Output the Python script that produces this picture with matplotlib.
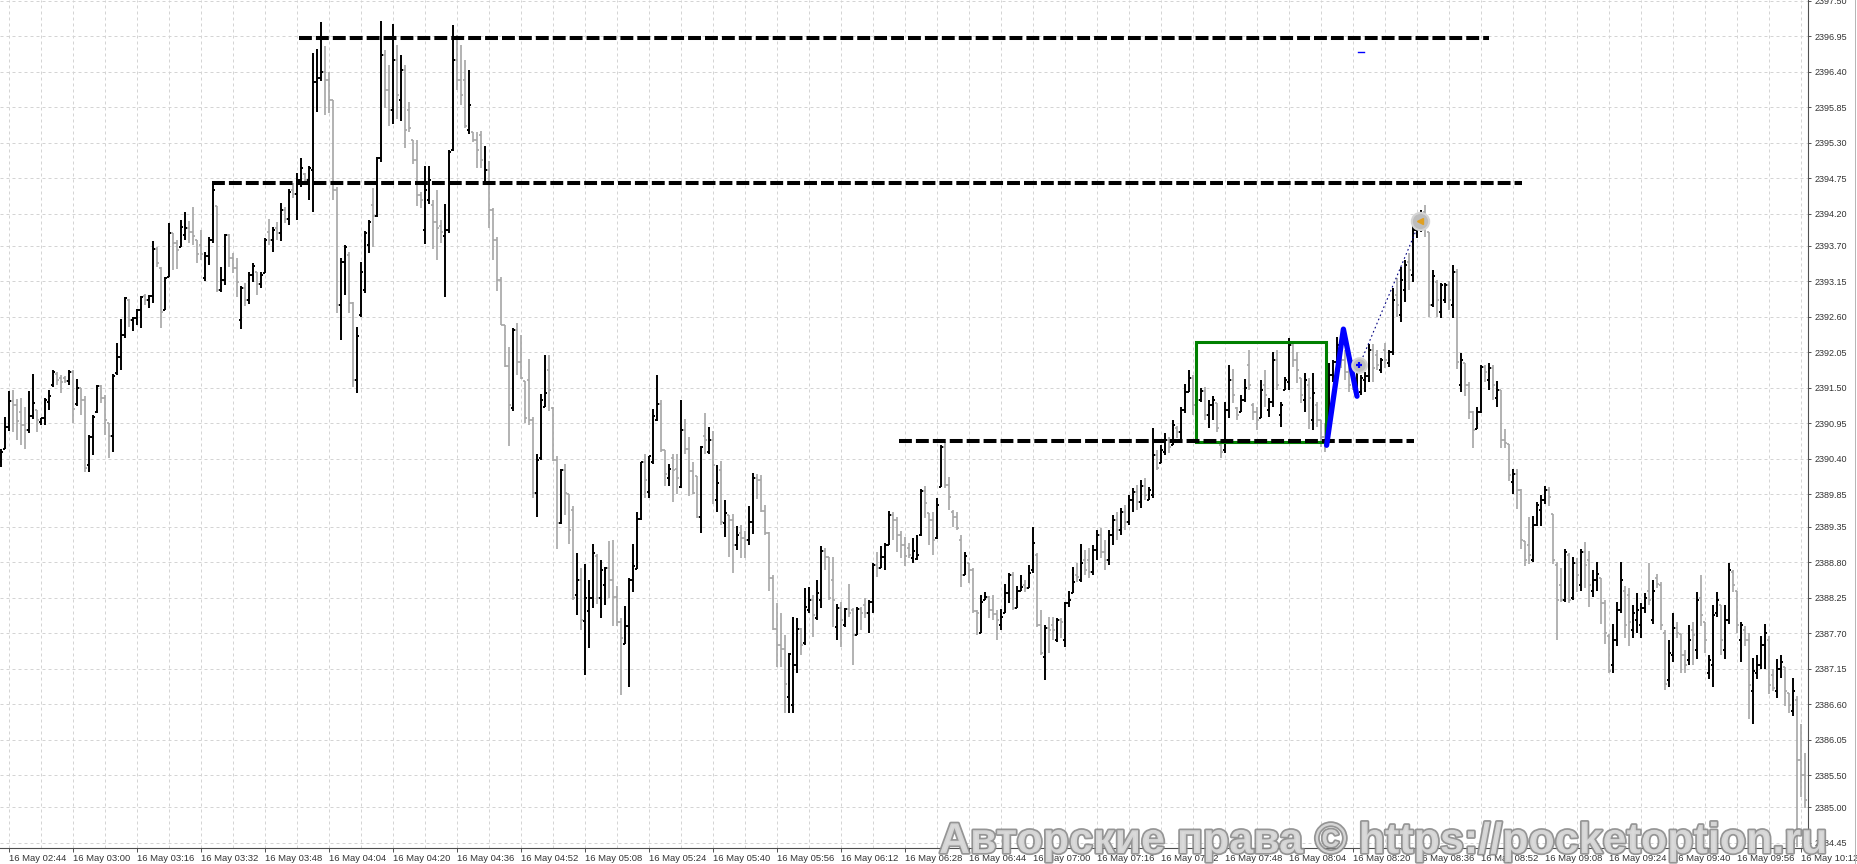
import matplotlib
matplotlib.use("Agg")
import matplotlib.pyplot as plt
import matplotlib.patheffects as pe
from matplotlib.collections import LineCollection
from matplotlib.patches import Rectangle
from matplotlib.lines import Line2D

plt.rcParams['font.family'] = ['Liberation Sans', 'DejaVu Sans']

# M1 bars, 16 May, first bar 02:42
opens = [
    2390.35, 2390.55, 2390.89, 2391.29, 2391.23, 2391.12, 2390.92, 2390.84, 2391.06, 2391.15,
    2390.97, 2391.03, 2391.28, 2391.54, 2391.71, 2391.65, 2391.65, 2391.60, 2391.74, 2391.25,
    2391.49, 2391.31, 2390.30, 2390.74, 2391.12, 2391.53, 2391.34, 2390.95, 2390.75, 2391.73,
    2391.98, 2392.32, 2392.86, 2392.55, 2392.58, 2392.71, 2392.92, 2392.86, 2392.92, 2393.65,
    2393.36, 2392.71, 2393.22, 2393.90, 2393.74, 2393.68, 2393.87, 2393.98, 2393.91, 2393.79,
    2393.71, 2393.20, 2393.54, 2393.79, 2394.32, 2393.02, 2393.17, 2393.87, 2393.51, 2393.36,
    2392.55, 2393.05, 2392.86, 2393.25, 2393.29, 2393.11, 2393.28, 2393.91, 2393.79, 2393.98,
    2393.90, 2394.25, 2394.12, 2394.57, 2394.50, 2394.72, 2394.81, 2394.72, 2394.88, 2396.24,
    2396.30, 2396.39, 2396.27, 2395.96, 2394.57, 2392.78, 2393.45, 2393.56, 2392.81, 2391.62,
    2392.63, 2393.02, 2393.71, 2394.33, 2394.16, 2395.06, 2396.66, 2396.12, 2395.81, 2396.58,
    2395.96, 2396.43, 2395.81, 2395.34, 2395.03, 2394.49, 2393.95, 2394.41, 2394.33, 2394.07,
    2394.01, 2393.85, 2393.94, 2395.19, 2396.58, 2396.27, 2396.27, 2395.50, 2395.46, 2395.34,
    2395.42, 2394.69, 2394.88, 2394.26, 2393.79, 2393.17, 2392.47, 2391.84, 2391.19, 2392.40,
    2391.90, 2391.60, 2391.62, 2391.00, 2389.87, 2390.41, 2391.20, 2391.77, 2391.19, 2390.38,
    2389.40, 2390.22, 2389.85, 2389.61, 2388.29, 2388.52, 2387.89, 2388.05, 2388.24, 2388.89,
    2388.24, 2388.44, 2388.71, 2388.52, 2388.26, 2387.87, 2387.53, 2387.81, 2388.52, 2388.69,
    2389.47, 2390.35, 2389.88, 2390.35, 2391.00, 2391.25, 2390.53, 2390.10, 2390.41, 2390.25,
    2389.96, 2390.84, 2390.56, 2390.21, 2390.13, 2389.50, 2390.75, 2390.50, 2390.69, 2389.76,
    2390.22, 2389.40, 2389.53, 2389.45, 2389.06, 2389.25, 2389.17, 2389.14, 2389.42, 2390.10,
    2390.07, 2389.59, 2389.25, 2388.55, 2387.76, 2387.51, 2387.45, 2386.71, 2386.58, 2387.20,
    2387.76, 2387.54, 2388.06, 2388.21, 2387.93, 2388.21, 2388.97, 2388.88, 2388.52, 2387.79,
    2388.09, 2387.82, 2388.07, 2388.06, 2387.67, 2388.07, 2388.13, 2388.01, 2388.18, 2388.75,
    2388.71, 2388.88, 2389.06, 2389.53, 2389.45, 2389.22, 2389.06, 2389.02, 2388.86, 2388.85,
    2389.22, 2389.90, 2389.56, 2389.45, 2389.17, 2389.96, 2390.58, 2389.99, 2389.57, 2389.50,
    2389.14, 2388.60, 2388.78, 2388.68, 2388.04, 2387.70, 2388.21, 2388.26, 2388.06, 2387.99,
    2387.82, 2388.02, 2388.32, 2388.60, 2388.09, 2388.36, 2388.44, 2388.40, 2388.68, 2388.91,
    2387.82, 2387.33, 2387.78, 2387.82, 2387.59, 2387.90, 2387.59, 2388.16, 2388.32, 2388.60,
    2388.52, 2388.83, 2388.83, 2388.64, 2388.99, 2389.22, 2388.95, 2388.83, 2389.22, 2389.45,
    2389.30, 2389.57, 2389.42, 2389.76, 2389.88, 2389.73, 2389.98, 2389.76, 2389.84, 2390.46,
    2390.33, 2390.50, 2390.69, 2390.61, 2390.88, 2390.81, 2391.15, 2391.43, 2391.65, 2391.43,
    2391.31, 2391.45, 2391.08, 2391.23, 2391.26, 2390.61, 2390.53, 2391.15, 2391.62, 2391.19,
    2391.12, 2391.31, 2391.85, 2391.23, 2391.12, 2391.03, 2391.54, 2391.15, 2391.28, 2391.93,
    2391.08, 2391.46, 2391.59, 2392.16, 2391.93, 2391.65, 2391.31, 2391.54, 2391.00, 2391.23,
    2391.00, 2390.74, 2390.64, 2391.70, 2391.90, 2392.16, 2391.93, 2391.74, 2391.85, 2391.54,
    2391.43, 2391.62, 2391.68, 2392.09, 2392.01, 2391.77, 2392.09, 2391.88, 2392.05, 2392.94,
    2392.63, 2393.02, 2393.45, 2393.25, 2393.94, 2393.98, 2394.22, 2393.91, 2392.78, 2393.14,
    2392.67, 2392.86, 2393.09, 2392.78, 2393.29, 2391.54, 2391.88, 2391.54, 2391.12, 2390.86,
    2391.12, 2391.82, 2391.62, 2391.81, 2391.34, 2391.46, 2390.69, 2390.63, 2390.04, 2390.16,
    2389.91, 2389.12, 2389.06, 2388.83, 2389.37, 2389.61, 2389.76, 2389.91, 2389.54, 2388.75,
    2388.44, 2388.21, 2388.91, 2388.24, 2388.78, 2388.44, 2388.95, 2388.83, 2388.36, 2388.52,
    2388.55, 2388.16, 2387.65, 2387.20, 2387.59, 2388.06, 2388.36, 2388.29, 2387.75, 2387.90,
    2387.82, 2388.09, 2388.36, 2387.90, 2388.55, 2388.44, 2387.71, 2386.97, 2387.36, 2387.78,
    2387.68, 2387.36, 2387.28, 2387.75, 2387.44, 2388.24, 2387.87, 2387.09, 2387.20, 2388.02,
    2388.13, 2387.44, 2387.90, 2388.64, 2388.36, 2387.59, 2387.75, 2387.59, 2386.81, 2387.09,
    2387.20, 2387.51, 2387.59, 2387.05, 2386.81, 2387.15, 2387.17, 2386.78, 2386.50, 2386.66,
    2385.73, 2385.50,
]
highs = [
    2390.55, 2391.05, 2391.45, 2391.46, 2391.33, 2391.35, 2391.20, 2391.45, 2391.71, 2391.15,
    2391.03, 2391.35, 2391.46, 2391.77, 2391.74, 2391.70, 2391.68, 2391.77, 2391.77, 2391.63,
    2391.49, 2391.37, 2390.77, 2391.08, 2391.54, 2391.54, 2391.39, 2390.95, 2391.71, 2392.19,
    2392.57, 2392.91, 2392.88, 2392.60, 2392.72, 2392.92, 2392.95, 2392.94, 2393.77, 2393.68,
    2393.37, 2393.22, 2394.05, 2393.90, 2393.79, 2394.10, 2394.22, 2394.08, 2394.30, 2393.79,
    2393.94, 2393.60, 2393.84, 2394.66, 2394.32, 2393.37, 2393.88, 2393.88, 2393.59, 2393.51,
    2393.08, 2393.12, 2393.29, 2393.43, 2393.29, 2393.29, 2393.82, 2394.12, 2393.99, 2394.07,
    2394.36, 2394.30, 2394.58, 2394.67, 2394.83, 2395.06, 2394.83, 2394.94, 2396.69, 2396.75,
    2397.17, 2396.80, 2396.39, 2395.96, 2394.61, 2393.51, 2393.71, 2393.60, 2392.83, 2392.44,
    2393.45, 2393.93, 2394.10, 2394.60, 2395.08, 2397.18, 2396.74, 2396.50, 2397.14, 2396.81,
    2396.66, 2396.50, 2395.93, 2395.34, 2395.34, 2394.53, 2394.94, 2394.94, 2394.41, 2394.57,
    2394.10, 2394.35, 2395.19, 2397.12, 2396.97, 2396.81, 2396.58, 2396.43, 2395.46, 2395.46,
    2395.48, 2395.25, 2395.01, 2394.29, 2393.84, 2393.22, 2392.47, 2392.13, 2392.43, 2392.50,
    2392.32, 2391.60, 2391.95, 2391.05, 2390.47, 2391.40, 2392.01, 2392.01, 2391.20, 2390.44,
    2390.25, 2390.32, 2389.85, 2389.67, 2388.94, 2388.71, 2388.77, 2388.52, 2389.08, 2388.92,
    2388.83, 2388.72, 2389.12, 2389.14, 2388.43, 2387.93, 2388.12, 2388.55, 2389.08, 2389.57,
    2390.35, 2390.47, 2390.44, 2391.17, 2391.70, 2391.31, 2390.53, 2390.32, 2390.47, 2390.47,
    2391.31, 2391.02, 2390.74, 2390.35, 2390.13, 2390.60, 2391.11, 2390.89, 2390.83, 2390.30,
    2390.36, 2389.76, 2389.53, 2389.54, 2389.36, 2389.37, 2389.28, 2389.67, 2390.18, 2390.16,
    2390.15, 2389.68, 2389.26, 2388.60, 2388.16, 2388.01, 2387.67, 2387.39, 2387.95, 2387.93,
    2387.78, 2388.40, 2388.41, 2388.29, 2388.52, 2389.05, 2389.02, 2388.88, 2388.88, 2388.15,
    2388.18, 2388.09, 2388.46, 2388.09, 2388.10, 2388.10, 2388.24, 2388.22, 2388.78, 2388.95,
    2389.05, 2389.09, 2389.59, 2389.57, 2389.50, 2389.28, 2389.19, 2389.09, 2389.17, 2389.22,
    2389.93, 2389.98, 2389.56, 2389.57, 2389.79, 2390.61, 2390.66, 2390.12, 2389.61, 2389.57,
    2389.22, 2388.95, 2388.78, 2388.71, 2388.06, 2388.29, 2388.33, 2388.27, 2388.29, 2388.06,
    2388.07, 2388.46, 2388.63, 2388.64, 2388.43, 2388.60, 2388.52, 2388.75, 2389.34, 2388.94,
    2388.06, 2387.82, 2387.95, 2387.95, 2387.93, 2387.93, 2388.18, 2388.35, 2388.72, 2388.78,
    2389.08, 2388.99, 2389.02, 2389.06, 2389.30, 2389.33, 2389.14, 2389.30, 2389.53, 2389.57,
    2389.64, 2389.68, 2389.84, 2389.95, 2389.99, 2390.07, 2390.10, 2389.96, 2390.88, 2390.53,
    2390.61, 2390.80, 2390.74, 2391.00, 2390.91, 2391.20, 2391.56, 2391.77, 2391.70, 2391.54,
    2391.49, 2391.51, 2391.31, 2391.37, 2391.26, 2390.64, 2391.28, 2391.85, 2391.79, 2391.20,
    2391.39, 2391.63, 2392.09, 2391.26, 2391.20, 2391.62, 2391.77, 2391.34, 2392.05, 2392.09,
    2391.28, 2391.67, 2392.27, 2392.19, 2392.05, 2391.65, 2391.73, 2391.65, 2391.73, 2391.28,
    2391.00, 2390.95, 2391.88, 2391.93, 2392.29, 2392.24, 2392.09, 2391.93, 2391.93, 2391.93,
    2391.70, 2391.74, 2392.18, 2392.18, 2392.09, 2391.96, 2392.19, 2392.09, 2393.05, 2393.20,
    2393.37, 2393.48, 2393.59, 2394.05, 2394.21, 2394.25, 2394.33, 2393.91, 2393.33, 2393.17,
    2393.12, 2393.12, 2393.15, 2393.40, 2393.34, 2392.04, 2391.88, 2391.59, 2391.14, 2391.20,
    2391.85, 2391.85, 2391.88, 2391.85, 2391.60, 2391.46, 2390.86, 2390.63, 2390.24, 2390.24,
    2389.93, 2389.12, 2389.50, 2389.51, 2389.73, 2389.84, 2389.98, 2389.96, 2389.54, 2388.80,
    2388.71, 2389.00, 2388.94, 2388.88, 2388.86, 2389.00, 2389.11, 2388.97, 2388.68, 2388.80,
    2388.55, 2388.22, 2387.68, 2387.84, 2388.19, 2388.80, 2388.43, 2388.40, 2388.13, 2388.32,
    2388.16, 2388.32, 2388.78, 2388.52, 2388.61, 2388.49, 2387.75, 2387.59, 2388.02, 2387.88,
    2387.68, 2387.44, 2387.82, 2387.88, 2388.33, 2388.60, 2387.88, 2387.36, 2388.13, 2388.33,
    2388.13, 2388.13, 2388.78, 2388.68, 2388.36, 2387.88, 2387.81, 2387.71, 2387.31, 2387.36,
    2387.65, 2387.84, 2387.65, 2387.14, 2387.30, 2387.36, 2387.17, 2386.78, 2387.00, 2386.72,
    2386.30, 2385.84,
]
lows = [
    2390.27, 2390.55, 2390.83, 2390.81, 2390.69, 2390.61, 2390.55, 2390.80, 2391.02, 2390.81,
    2390.92, 2390.92, 2391.15, 2391.51, 2391.54, 2391.42, 2391.57, 2391.54, 2390.95, 2391.22,
    2391.08, 2390.19, 2390.19, 2390.46, 2391.11, 2391.26, 2390.77, 2390.41, 2390.50, 2391.70,
    2391.77, 2392.27, 2392.44, 2392.38, 2392.47, 2392.43, 2392.78, 2392.74, 2392.81, 2393.37,
    2392.43, 2392.71, 2393.22, 2393.33, 2393.34, 2393.68, 2393.79, 2393.74, 2393.71, 2393.43,
    2393.48, 2393.15, 2393.40, 2393.74, 2392.98, 2392.98, 2393.09, 2393.37, 2393.28, 2392.91,
    2392.41, 2392.77, 2392.80, 2393.14, 2392.94, 2393.05, 2393.28, 2393.71, 2393.60, 2393.79,
    2393.77, 2394.05, 2394.02, 2394.44, 2394.10, 2394.61, 2394.64, 2394.41, 2394.22, 2395.77,
    2396.25, 2395.73, 2395.76, 2394.41, 2392.66, 2392.24, 2392.94, 2392.66, 2391.51, 2391.42,
    2392.60, 2392.97, 2393.59, 2393.68, 2394.15, 2395.00, 2395.84, 2395.56, 2395.59, 2395.67,
    2395.64, 2395.22, 2395.46, 2394.97, 2394.32, 2394.29, 2393.73, 2394.35, 2393.65, 2393.48,
    2393.74, 2392.91, 2393.90, 2395.17, 2396.12, 2395.88, 2395.53, 2395.43, 2395.31, 2394.91,
    2394.91, 2394.69, 2393.98, 2393.48, 2393.00, 2392.47, 2391.82, 2390.60, 2391.14, 2391.70,
    2391.63, 2390.95, 2390.92, 2389.79, 2389.50, 2390.38, 2391.20, 2391.14, 2390.36, 2389.00,
    2389.39, 2389.53, 2389.08, 2388.22, 2387.98, 2387.75, 2387.05, 2387.47, 2388.09, 2388.15,
    2387.93, 2388.13, 2388.24, 2387.81, 2387.81, 2386.74, 2387.53, 2386.86, 2388.33, 2388.69,
    2389.45, 2389.79, 2389.79, 2390.32, 2390.98, 2390.50, 2389.98, 2389.98, 2389.73, 2389.85,
    2389.95, 2390.47, 2389.82, 2389.85, 2389.48, 2389.25, 2390.47, 2390.47, 2389.70, 2389.57,
    2389.37, 2389.19, 2388.88, 2388.63, 2388.99, 2388.86, 2388.86, 2389.06, 2389.23, 2389.78,
    2389.57, 2389.22, 2388.36, 2387.75, 2387.17, 2387.17, 2386.46, 2386.47, 2386.46, 2387.09,
    2387.36, 2387.51, 2388.01, 2387.64, 2387.90, 2388.09, 2388.68, 2388.21, 2387.79, 2387.59,
    2387.48, 2387.79, 2387.95, 2387.20, 2387.67, 2387.75, 2387.93, 2387.71, 2388.01, 2388.57,
    2388.71, 2388.68, 2389.06, 2389.14, 2388.95, 2388.86, 2388.74, 2388.86, 2388.78, 2388.83,
    2389.20, 2389.48, 2389.06, 2388.91, 2389.16, 2389.96, 2389.95, 2389.61, 2389.34, 2389.30,
    2388.41, 2388.60, 2388.47, 2388.02, 2387.67, 2387.70, 2388.21, 2387.93, 2387.90, 2387.59,
    2387.75, 2388.02, 2388.16, 2388.06, 2388.09, 2388.36, 2388.33, 2388.40, 2388.63, 2387.79,
    2387.36, 2386.97, 2387.39, 2387.59, 2387.56, 2387.62, 2387.48, 2388.10, 2388.32, 2388.49,
    2388.49, 2388.60, 2388.55, 2388.60, 2388.83, 2388.86, 2388.68, 2388.75, 2389.06, 2389.14,
    2389.22, 2389.30, 2389.37, 2389.57, 2389.61, 2389.64, 2389.76, 2389.76, 2389.79, 2390.22,
    2390.33, 2390.46, 2390.49, 2390.61, 2390.72, 2390.69, 2391.11, 2391.43, 2391.08, 2391.23,
    2391.28, 2391.00, 2390.88, 2391.00, 2390.81, 2390.41, 2390.49, 2391.03, 2391.26, 2391.00,
    2391.12, 2391.28, 2391.46, 2391.00, 2390.84, 2391.03, 2391.20, 2391.05, 2391.20, 2391.46,
    2390.89, 2391.46, 2391.46, 2391.82, 2391.57, 2391.26, 2391.12, 2390.86, 2390.84, 2390.89,
    2390.58, 2390.50, 2390.64, 2391.59, 2391.67, 2391.81, 2391.62, 2391.43, 2391.46, 2391.43,
    2391.39, 2391.43, 2391.59, 2391.59, 2391.77, 2391.73, 2391.81, 2391.82, 2392.01, 2392.60,
    2392.52, 2392.83, 2393.02, 2393.14, 2393.82, 2393.91, 2393.84, 2392.60, 2392.75, 2392.60,
    2392.58, 2392.81, 2392.70, 2392.58, 2391.79, 2391.43, 2391.37, 2391.02, 2390.57, 2390.86,
    2391.11, 2391.59, 2391.46, 2391.31, 2391.20, 2390.57, 2390.57, 2390.05, 2389.85, 2389.62,
    2389.00, 2388.74, 2388.77, 2388.80, 2389.36, 2389.36, 2389.70, 2389.67, 2388.77, 2387.59,
    2388.18, 2388.19, 2388.16, 2388.21, 2388.33, 2388.36, 2388.40, 2388.10, 2388.26, 2388.36,
    2387.84, 2387.53, 2387.08, 2387.08, 2387.50, 2388.01, 2387.62, 2387.50, 2387.62, 2387.71,
    2387.62, 2388.01, 2388.13, 2387.84, 2388.40, 2387.75, 2386.82, 2386.86, 2387.25, 2387.62,
    2387.08, 2387.08, 2387.20, 2387.20, 2387.30, 2387.81, 2387.40, 2386.99, 2386.86, 2387.95,
    2387.36, 2387.30, 2387.84, 2388.33, 2387.71, 2387.25, 2387.50, 2386.37, 2386.29, 2386.99,
    2387.14, 2387.15, 2386.75, 2386.80, 2386.69, 2387.00, 2386.57, 2386.47, 2386.41, 2384.38,
    2385.16, 2384.99,
]
closes = [
    2390.50, 2390.89, 2391.29, 2391.23, 2390.98, 2390.92, 2390.84, 2391.06, 2391.26, 2391.00,
    2391.03, 2391.31, 2391.37, 2391.74, 2391.62, 2391.59, 2391.60, 2391.74, 2391.18, 2391.49,
    2391.31, 2390.26, 2390.74, 2391.05, 2391.53, 2391.34, 2391.00, 2390.75, 2391.68, 2391.98,
    2392.32, 2392.89, 2392.55, 2392.58, 2392.71, 2392.91, 2392.86, 2392.92, 2393.65, 2393.43,
    2392.67, 2393.20, 2393.90, 2393.74, 2393.64, 2393.99, 2393.98, 2393.91, 2393.85, 2393.57,
    2393.57, 2393.54, 2393.79, 2394.57, 2393.02, 2393.17, 2393.87, 2393.51, 2393.36, 2393.14,
    2393.05, 2392.86, 2393.25, 2393.39, 2393.11, 2393.25, 2393.79, 2393.79, 2393.94, 2393.90,
    2394.25, 2394.12, 2394.53, 2394.50, 2394.72, 2394.91, 2394.72, 2394.91, 2396.24, 2396.30,
    2396.39, 2396.27, 2395.96, 2394.57, 2392.78, 2393.45, 2393.68, 2392.81, 2391.62, 2392.30,
    2393.29, 2393.90, 2394.07, 2394.16, 2395.06, 2396.66, 2396.12, 2395.81, 2396.58, 2396.04,
    2396.43, 2395.50, 2395.53, 2395.03, 2394.49, 2394.41, 2394.57, 2394.72, 2394.07, 2393.98,
    2393.91, 2393.94, 2395.16, 2396.58, 2396.27, 2396.04, 2395.56, 2395.88, 2395.34, 2395.19,
    2395.03, 2394.88, 2394.26, 2393.79, 2393.17, 2392.47, 2391.84, 2391.23, 2392.40, 2391.90,
    2391.65, 2391.03, 2391.00, 2389.87, 2390.38, 2391.31, 2391.42, 2391.46, 2390.38, 2389.40,
    2390.22, 2389.87, 2389.30, 2388.24, 2388.52, 2387.91, 2388.24, 2388.24, 2388.94, 2388.24,
    2388.68, 2388.71, 2388.52, 2388.26, 2387.87, 2387.62, 2387.81, 2388.52, 2388.74, 2389.47,
    2390.35, 2390.07, 2390.44, 2391.06, 2391.25, 2390.53, 2390.16, 2390.25, 2390.22, 2390.10,
    2390.84, 2390.56, 2390.21, 2389.87, 2389.50, 2390.58, 2390.69, 2390.69, 2390.30, 2390.02,
    2389.42, 2389.56, 2389.45, 2389.06, 2389.22, 2389.17, 2389.14, 2389.42, 2390.10, 2390.07,
    2389.59, 2389.25, 2388.55, 2387.76, 2387.51, 2387.45, 2386.92, 2387.37, 2387.20, 2387.76,
    2387.51, 2388.10, 2388.21, 2387.98, 2388.32, 2388.97, 2388.88, 2388.24, 2388.21, 2388.09,
    2387.90, 2388.07, 2388.01, 2387.67, 2388.07, 2388.02, 2388.01, 2388.18, 2388.75, 2388.71,
    2388.88, 2389.06, 2389.53, 2389.45, 2389.22, 2389.06, 2388.89, 2388.91, 2388.97, 2388.91,
    2389.90, 2389.71, 2389.45, 2389.14, 2389.68, 2390.58, 2389.99, 2389.81, 2389.50, 2389.33,
    2388.60, 2388.89, 2388.68, 2388.04, 2388.02, 2388.19, 2388.26, 2388.06, 2387.99, 2387.90,
    2387.95, 2388.32, 2388.60, 2388.09, 2388.36, 2388.41, 2388.40, 2388.63, 2389.09, 2387.82,
    2387.39, 2387.78, 2387.75, 2387.75, 2387.90, 2387.87, 2388.16, 2388.22, 2388.49, 2388.57,
    2388.78, 2388.68, 2388.64, 2388.99, 2389.22, 2388.95, 2388.83, 2389.22, 2389.45, 2389.30,
    2389.57, 2389.42, 2389.76, 2389.88, 2389.73, 2389.98, 2389.84, 2389.91, 2390.46, 2390.26,
    2390.53, 2390.69, 2390.58, 2390.92, 2390.81, 2391.15, 2391.43, 2391.65, 2391.23, 2391.31,
    2391.45, 2391.08, 2391.23, 2391.31, 2390.88, 2390.50, 2391.15, 2391.62, 2391.39, 2391.08,
    2391.31, 2391.49, 2391.54, 2391.12, 2391.00, 2391.46, 2391.39, 2391.28, 2391.93, 2391.54,
    2391.23, 2391.62, 2392.16, 2391.93, 2391.77, 2391.39, 2391.62, 2391.34, 2391.42, 2391.00,
    2390.74, 2390.61, 2391.70, 2391.90, 2392.16, 2391.93, 2391.74, 2391.54, 2391.54, 2391.74,
    2391.65, 2391.68, 2392.09, 2391.81, 2391.85, 2391.93, 2391.93, 2392.05, 2392.86, 2392.78,
    2393.17, 2393.40, 2393.33, 2393.94, 2394.13, 2394.19, 2394.02, 2392.78, 2393.23, 2392.86,
    2393.09, 2393.09, 2392.86, 2393.29, 2391.90, 2391.93, 2391.54, 2391.12, 2390.84, 2391.12,
    2391.82, 2391.74, 2391.81, 2391.54, 2391.46, 2390.69, 2390.64, 2390.15, 2390.16, 2389.91,
    2389.14, 2388.83, 2388.91, 2389.37, 2389.68, 2389.76, 2389.91, 2389.81, 2388.83, 2388.21,
    2388.21, 2388.95, 2388.21, 2388.78, 2388.60, 2388.95, 2388.75, 2388.44, 2388.52, 2388.61,
    2388.16, 2387.71, 2387.12, 2387.59, 2388.06, 2388.52, 2387.82, 2387.87, 2388.02, 2388.06,
    2388.09, 2388.24, 2388.21, 2388.36, 2388.46, 2387.82, 2386.92, 2387.40, 2387.78, 2387.71,
    2387.36, 2387.20, 2387.59, 2387.67, 2388.21, 2387.98, 2387.59, 2387.28, 2387.98, 2388.21,
    2387.59, 2387.90, 2388.68, 2388.44, 2387.82, 2387.82, 2387.59, 2386.89, 2387.12, 2387.20,
    2387.51, 2387.71, 2386.89, 2386.85, 2387.15, 2387.25, 2386.81, 2386.58, 2386.81, 2385.73,
    2385.50, 2385.11,
]

time_labels = [
    "16 May 02:44", "16 May 03:00", "16 May 03:16", "16 May 03:32", "16 May 03:48",
    "16 May 04:04", "16 May 04:20", "16 May 04:36", "16 May 04:52", "16 May 05:08",
    "16 May 05:24", "16 May 05:40", "16 May 05:56", "16 May 06:12", "16 May 06:28",
    "16 May 06:44", "16 May 07:00", "16 May 07:16", "16 May 07:32", "16 May 07:48",
    "16 May 08:04", "16 May 08:20", "16 May 08:36", "16 May 08:52", "16 May 09:08",
    "16 May 09:24", "16 May 09:40", "16 May 09:56", "16 May 10:12",
]
price_ticks = [
    2397.50, 2396.95, 2396.40, 2395.85, 2395.30, 2394.75, 2394.20, 2393.70, 2393.15,
    2392.60, 2392.05, 2391.50, 2390.95, 2390.40, 2389.85, 2389.35, 2388.80, 2388.25,
    2387.70, 2387.15, 2386.60, 2386.05, 2385.50, 2385.00, 2384.45,
]

# horizontal levels drawn by hand: price, first bar, last bar
level_prices = [2396.92, 2394.67, 2390.68]
level_from = [74.5, 52.75, 224.5]
level_to = [372.0, 380.25, 353.25]

# consolidation box and the zig-zag after the breakout
box_bars = [298.75, 331.25]
box_prices = [2390.66, 2392.21]
zigzag_bars = [331.4, 335.6, 339.0]
zigzag_prices = [2390.61, 2392.41, 2391.37]

# trade arrows (entry / exit)
entry_bar, entry_price = 339.6, 2391.85
exit_bar, exit_price = 354.75, 2394.08
ask_bar, ask_price = 340.0, 2396.70

W, H = 1857, 864
fig = plt.figure(figsize=(W / 100, H / 100), dpi=100)
fig.patch.set_facecolor('white')
ax = fig.add_axes([0, 16 / H, 1808 / W, 848 / H])
n = len(closes)
ax.set_xlim(-0.25, n - 0.25)
ax.set_ylim(2384.372, 2397.508)

# grid
grid_kw = dict(color='#d4d4d4', lw=0.72, ls=(0, (3, 3)), zorder=1)
for k in range(2, n, 8):
    ax.axvline(k, **grid_kw)
for p in price_ticks:
    ax.axhline(p, **grid_kw)

# OHLC bars
up, down = [], []
for i in range(n):
    segs = [[(i, lows[i]), (i, highs[i])],
            [(i - 0.4, opens[i]), (i, opens[i])],
            [(i, closes[i]), (i + 0.4, closes[i])]]
    if closes[i] >= opens[i]:
        up.extend(segs)
    else:
        down.extend(segs)
ax.add_collection(LineCollection(down, colors='#a6a6a6', linewidths=1.2, zorder=3))
ax.add_collection(LineCollection(up, colors='black', linewidths=1.4, zorder=3))

# annotations
ax.add_patch(Rectangle((box_bars[0], box_prices[0]), box_bars[1] - box_bars[0],
                       box_prices[1] - box_prices[0], fill=False, ec='#008000', lw=2.2, zorder=5))
for p, a, b in zip(level_prices, level_from, level_to):
    ax.plot([a, b], [p, p], color='black', lw=2.9, ls=(0, (3.2, 1.0)), zorder=6)
ax.plot(zigzag_bars, zigzag_prices, color='#0000ff', lw=3.8,
        solid_capstyle='round', solid_joinstyle='round', zorder=7)
ax.plot([entry_bar, exit_bar], [entry_price, exit_price], color='#000080', lw=0.8,
        ls=(0, (1.5, 2.5)), zorder=7)
ax.plot(entry_bar, entry_price, 'o', ms=10.5, mfc='#bdbdbd', mec='#d5d5d5', mew=1.5, zorder=8)
ax.plot(entry_bar, entry_price, '+', ms=5, color='#0000ff', mew=1.6, zorder=9)
ax.plot(exit_bar, exit_price, 'o', ms=12.5, mfc='#bdbdbd', mec='#d5d5d5', mew=1.5, zorder=8)
ax.plot(exit_bar, exit_price, '<', ms=5, color='#e0a020', zorder=9)
ax.plot([ask_bar - 0.7, ask_bar + 0.7], [ask_price, ask_price], color='#0000ff', lw=1.0, zorder=8)

# axes look like the terminal
for s in ['top', 'left']:
    ax.spines[s].set_visible(False)
for s in ['right', 'bottom']:
    ax.spines[s].set_color('#505050')
    ax.spines[s].set_linewidth(0.8)
ax.yaxis.tick_right()
ax.set_yticks(price_ticks)
ax.set_yticklabels([f"{p:.2f}" for p in price_ticks])
ax.set_xticks(range(2, n, 16))
ax.set_xticklabels(time_labels, ha='left')
ax.tick_params(axis='y', length=2.4, width=0.7, pad=2.0, labelsize=6.5,
               color='#505050', labelcolor='#333333')
ax.tick_params(axis='x', length=3.0, width=0.7, pad=1.2, labelsize=6.8,
               color='#505050', labelcolor='#333333')

fig.add_artist(Line2D([1854.5 / W, 1854.5 / W], [0, 1], transform=fig.transFigure,
                      color='#b4b4b4', lw=0.7))

fig.text(939 / W, 11 / H, "Авторские права © https://pocketoption.ru",
         fontsize=31, fontweight='bold', color='#dadada', alpha=0.92,
         path_effects=[pe.withStroke(linewidth=2.5, foreground='#8c8c8c')])

fig.savefig('out.png', dpi=100)
